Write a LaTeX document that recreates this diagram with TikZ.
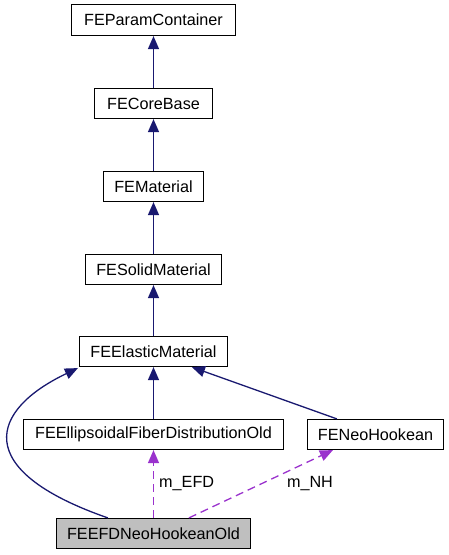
\documentclass[tikz,border=0pt]{standalone}
\usepackage{fontspec}
\setmainfont{Liberation Sans}
\usetikzlibrary{arrows.meta,calc}
\definecolor{navyedge}{HTML}{191970}
\definecolor{purpleedge}{HTML}{9A32CD}
\definecolor{grayfill}{HTML}{BFBFBF}
\begin{document}
\begin{tikzpicture}[x=1pt,y=-1pt,
  cls/.style={draw=black,line width=1.2pt,fill=white,inner sep=0pt,minimum height=30pt,font=\fontsize{16.2}{19}\selectfont,anchor=center},
  inherit/.style={draw=navyedge,line width=1.3pt,-{Triangle[length=13pt,width=11pt]}},
  usage/.style={draw=purpleedge,line width=1.3pt,dash pattern=on 8pt off 5pt,-{Triangle[length=13pt,width=11pt]}},
  lbl/.style={font=\fontsize{16.2}{19}\selectfont,inner sep=0pt}]
\useasboundingbox (0,0) rectangle (448,555);
\node[cls,minimum width=164pt,minimum height=31pt] (pc) at (153.5,20) {FEParamContainer};
\node[cls,minimum width=118pt] (cb) at (153.5,103.5) {FECoreBase};
\node[cls,minimum width=100pt] (mat) at (153.5,186.5) {FEMaterial};
\node[cls,minimum width=136pt] (sm) at (153.5,269.5) {FESolidMaterial};
\node[cls,minimum width=148pt] (em) at (153.5,351.5) {FEElasticMaterial};
\node[cls,minimum width=260pt] (efd) at (153.5,434.5) {FEEllipsoidalFiberDistributionOld};
\node[cls,minimum width=136pt] (nh) at (375.5,434.5) {FENeoHookean};
\node[cls,fill=grayfill,minimum width=194pt] (nho) at (153.5,533.5) {FEEFDNeoHookeanOld};
% inheritance
\draw[inherit] (cb.north) -- (pc.south);
\draw[inherit] (mat.north) -- (cb.south);
\draw[inherit] (sm.north) -- (mat.south);
\draw[inherit] (em.north) -- (sm.south);
\draw[inherit] (efd.north) -- (em.south);
\draw[inherit] ($(nh.north west)+(30,0)$) -- ($(em.south west)+(113,0)$);
\draw[inherit] ($(nho.north west)+(52,0)$) .. controls (-30,470) and (-10,410) .. ($(em.south west)+(-1,1)$);
% usage
\draw[usage] (nho.north) -- (efd.south);
\node[lbl,anchor=west] (lefd) at (159,484) {m\_EFD};
\draw[usage] ($(nho.north west)+(133,0)$) -- ($(nh.south west)+(26,0)$);
\node[lbl] (lnh) at (310,484) {m\_NH};
\end{tikzpicture}
\end{document}
